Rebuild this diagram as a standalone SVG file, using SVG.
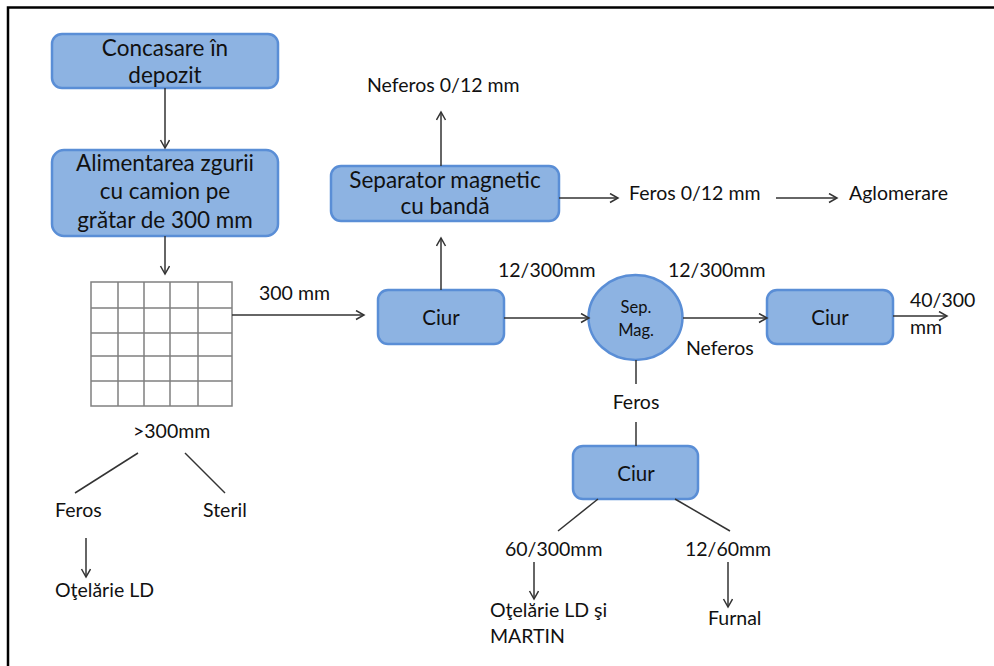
<svg xmlns="http://www.w3.org/2000/svg" width="994" height="666" viewBox="0 0 994 666">
<defs>
<style>
.box{fill:#8db3e2;stroke:#5a8ed6;stroke-width:2.5}
.bt{font-family:Lato,"Open Sans",sans-serif;font-size:22.5px;fill:#111;text-anchor:middle}
.cb{font-size:20.5px}
.lb{font-family:Lato,"Open Sans",sans-serif;font-size:19.5px;fill:#111}
.ln{stroke:#333;stroke-width:1.5;fill:none}
.gr{stroke:#808080;stroke-width:1.5;fill:none}
</style>
<marker id="ar" markerWidth="12" markerHeight="12" refX="9" refY="5" orient="auto" markerUnits="userSpaceOnUse">
<path d="M1,0.5 L9,5 L1,9.5" fill="none" stroke="#333" stroke-width="1.5"/>
</marker>
</defs>
<rect width="994" height="666" fill="#fff"/>
<path d="M8,666 V7.5 H994" fill="none" stroke="#000" stroke-width="2.5"/>

<g id="concasare">
<rect class="box" x="52" y="34" width="226" height="54" rx="10"/>
<text class="bt" x="165" y="56">Concasare în</text>
<text class="bt" x="165" y="83">depozit</text>
</g>
<g id="alimentarea">
<rect class="box" x="52" y="150" width="226" height="86" rx="12"/>
<text class="bt" x="165" y="171">Alimentarea zgurii</text>
<text class="bt" x="165" y="199">cu camion pe</text>
<text class="bt" x="165" y="228">grătar de 300 mm</text>
</g>
<g id="gratar">
<rect class="gr" x="91" y="282" width="141" height="124"/>
<path class="gr" d="M118,282V406M144,282V406M170,282V406M198,282V406M91,308H232M91,333H232M91,356H232M91,381H232"/>
</g>
<g id="ciur1">
<rect class="box" x="378" y="290" width="126" height="54" rx="10"/>
<text class="bt cb" x="441" y="325">Ciur</text>
</g>
<g id="separator">
<rect class="box" x="331" y="166" width="228" height="55" rx="10"/>
<text class="bt" x="445" y="188">Separator magnetic</text>
<text class="bt" x="445" y="214">cu bandă</text>
</g>
<g id="sepmag">
<ellipse class="box" cx="635.5" cy="317.5" rx="47" ry="42.5"/>
<text class="bt" x="636" y="313" style="font-size:16.5px">Sep.</text>
<text class="bt" x="636" y="336" style="font-size:16.5px">Mag.</text>
</g>
<g id="ciur2">
<rect class="box" x="767" y="290" width="126" height="54" rx="10"/>
<text class="bt cb" x="830" y="325">Ciur</text>
</g>
<g id="ciur3">
<rect class="box" x="573" y="446" width="125" height="53" rx="10"/>
<text class="bt cb" x="636" y="481">Ciur</text>
</g>

<g id="labels">
<text class="lb" x="259" y="300">300 mm</text>
<text class="lb" x="367" y="92">Neferos 0/12  mm</text>
<text class="lb" x="629" y="200">Feros 0/12  mm</text>
<text class="lb" x="849" y="200">Aglomerare</text>
<text class="lb" x="498" y="277">12/300mm</text>
<text class="lb" x="668" y="277">12/300mm</text>
<text class="lb" x="686" y="355">Neferos</text>
<text class="lb" x="910" y="307">40/300</text>
<text class="lb" x="910" y="334">mm</text>
<text class="lb" x="636" y="409" text-anchor="middle">Feros</text>
<text class="lb" x="505" y="556">60/300mm</text>
<text class="lb" x="490" y="617">Oţelărie LD şi</text>
<text class="lb" x="490" y="643">MARTIN</text>
<text class="lb" x="685" y="556">12/60mm</text>
<text class="lb" x="708" y="625">Furnal</text>
<text class="lb" x="133" y="438">&gt;300mm</text>
<text class="lb" x="55" y="517">Feros</text>
<text class="lb" x="203" y="517">Steril</text>
<text class="lb" x="55" y="597">Oţelărie LD</text>
</g>

<g id="connectors">
<path class="ln" d="M165,88V148" marker-end="url(#ar)"/>
<path class="ln" d="M165,236V274" marker-end="url(#ar)"/>
<path class="ln" d="M232,315H364" marker-end="url(#ar)"/>
<path class="ln" d="M441,290V238" marker-end="url(#ar)"/>
<path class="ln" d="M441,166V112" marker-end="url(#ar)"/>
<path class="ln" d="M559,198H618" marker-end="url(#ar)"/>
<path class="ln" d="M776,198H837" marker-end="url(#ar)"/>
<path class="ln" d="M504,318H589" marker-end="url(#ar)"/>
<path class="ln" d="M683,318H767" marker-end="url(#ar)"/>
<path class="ln" d="M893,316H947" marker-end="url(#ar)"/>
<path class="ln" d="M636,360V384"/>
<path class="ln" d="M636,422V446"/>
<path class="ln" d="M598,499L558,531"/>
<path class="ln" d="M675,499L730,531"/>
<path class="ln" d="M534,562V599" marker-end="url(#ar)"/>
<path class="ln" d="M728,562V607" marker-end="url(#ar)"/>
<path class="ln" d="M138,453L75,493"/>
<path class="ln" d="M185,453L225,493"/>
<path class="ln" d="M86,538V577" marker-end="url(#ar)"/>
</g>
</svg>
